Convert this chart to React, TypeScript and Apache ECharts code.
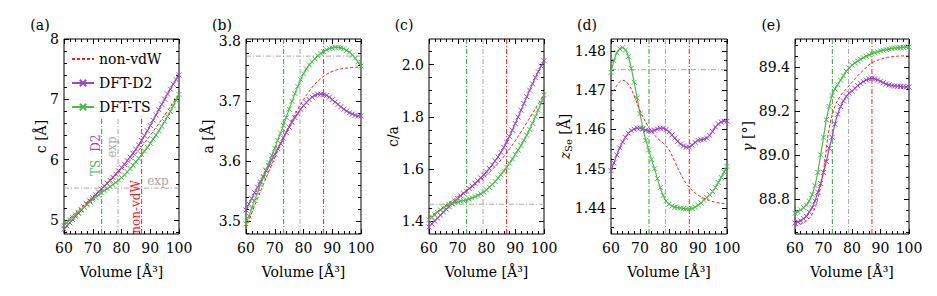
import React, { useEffect, useRef } from 'react';
import * as echarts from 'echarts';

// ---------- data ----------
const VOL = [60, 61, 62, 63, 64, 65, 66, 67, 68, 69, 70, 71, 72, 73, 74, 75, 76, 77, 78, 79, 80, 81, 82, 83, 84, 85, 86, 87, 88, 89, 90, 91, 92, 93, 94, 95, 96, 97, 98, 99, 100];
const VOL2 = [60, 62, 64, 66, 68, 70, 72, 74, 76, 78, 80, 82, 84, 86, 88, 90, 92, 94, 96, 98, 100];

// (a) c [Å]
const C_D2 = [4.848, 4.902, 4.956, 5.009, 5.061, 5.114, 5.167, 5.219, 5.270, 5.319, 5.368, 5.418, 5.467, 5.515, 5.564, 5.612, 5.661, 5.711, 5.763, 5.815, 5.869, 5.925, 5.983, 6.043, 6.106, 6.174, 6.245, 6.320, 6.397, 6.480, 6.567, 6.654, 6.742, 6.830, 6.918, 7.004, 7.089, 7.171, 7.252, 7.329, 7.404];
const C_TS = [4.912, 4.957, 5.001, 5.044, 5.087, 5.130, 5.173, 5.215, 5.256, 5.298, 5.339, 5.378, 5.416, 5.452, 5.488, 5.521, 5.554, 5.588, 5.624, 5.662, 5.704, 5.750, 5.800, 5.854, 5.910, 5.966, 6.022, 6.082, 6.143, 6.206, 6.272, 6.339, 6.408, 6.480, 6.555, 6.633, 6.715, 6.801, 6.892, 6.985, 7.081];
const C_NV = [4.932, 5.024, 5.116, 5.208, 5.297, 5.386, 5.473, 5.561, 5.649, 5.741, 5.837, 5.938, 6.044, 6.158, 6.278, 6.403, 6.535, 6.670, 6.808, 6.946, 7.088];

// (b) a [Å]
const A_D2 = [3.518, 3.528, 3.537, 3.547, 3.556, 3.565, 3.574, 3.583, 3.592, 3.602, 3.611, 3.620, 3.629, 3.638, 3.647, 3.656, 3.664, 3.672, 3.679, 3.686, 3.692, 3.697, 3.702, 3.706, 3.709, 3.711, 3.711, 3.710, 3.709, 3.706, 3.702, 3.698, 3.694, 3.690, 3.686, 3.683, 3.680, 3.678, 3.676, 3.675, 3.675];
const A_TS = [3.495, 3.508, 3.521, 3.534, 3.547, 3.560, 3.572, 3.585, 3.597, 3.609, 3.621, 3.634, 3.646, 3.659, 3.672, 3.686, 3.699, 3.712, 3.724, 3.735, 3.745, 3.753, 3.760, 3.765, 3.770, 3.775, 3.779, 3.782, 3.785, 3.787, 3.788, 3.789, 3.789, 3.788, 3.787, 3.784, 3.781, 3.776, 3.771, 3.765, 3.758];
const A_NV = [3.488, 3.513, 3.537, 3.560, 3.583, 3.605, 3.627, 3.648, 3.668, 3.686, 3.702, 3.716, 3.728, 3.737, 3.744, 3.749, 3.752, 3.754, 3.755, 3.756, 3.756];

// (c) c/a
const CA_D2 = [1.378, 1.390, 1.401, 1.412, 1.423, 1.435, 1.446, 1.456, 1.467, 1.477, 1.487, 1.497, 1.507, 1.516, 1.525, 1.535, 1.545, 1.555, 1.566, 1.577, 1.589, 1.602, 1.616, 1.631, 1.646, 1.664, 1.683, 1.703, 1.725, 1.749, 1.774, 1.799, 1.825, 1.851, 1.877, 1.902, 1.926, 1.950, 1.973, 1.994, 2.015];
const CA_TS = [1.405, 1.415, 1.425, 1.434, 1.443, 1.451, 1.458, 1.464, 1.468, 1.471, 1.474, 1.477, 1.479, 1.482, 1.485, 1.489, 1.494, 1.499, 1.505, 1.512, 1.520, 1.530, 1.540, 1.552, 1.565, 1.578, 1.592, 1.607, 1.622, 1.638, 1.655, 1.672, 1.690, 1.710, 1.730, 1.752, 1.775, 1.800, 1.826, 1.854, 1.884];
const CA_NV = [1.414, 1.430, 1.446, 1.463, 1.478, 1.494, 1.509, 1.524, 1.540, 1.558, 1.577, 1.598, 1.621, 1.648, 1.677, 1.708, 1.742, 1.777, 1.813, 1.849, 1.887];

// (d) z_Se [Å]
const Z_D2 = [1.4495, 1.4515, 1.4535, 1.4553, 1.4568, 1.4580, 1.4590, 1.4597, 1.4601, 1.4603, 1.4603, 1.4601, 1.4598, 1.4596, 1.4596, 1.4598, 1.4601, 1.4603, 1.4603, 1.4600, 1.4594, 1.4586, 1.4578, 1.4570, 1.4563, 1.4558, 1.4555, 1.4555, 1.4560, 1.4567, 1.4572, 1.4574, 1.4575, 1.4578, 1.4585, 1.4595, 1.4606, 1.4614, 1.4619, 1.4621, 1.4621];
const Z_TS = [1.4745, 1.4775, 1.4795, 1.4805, 1.4808, 1.4802, 1.4785, 1.4755, 1.4720, 1.4680, 1.4640, 1.4603, 1.4572, 1.4548, 1.4523, 1.4500, 1.4475, 1.4452, 1.4432, 1.4418, 1.4410, 1.4405, 1.4402, 1.4401, 1.4400, 1.4399, 1.4398, 1.4398, 1.4399, 1.4402, 1.4407, 1.4413, 1.4420, 1.4427, 1.4434, 1.4442, 1.4452, 1.4465, 1.4478, 1.4492, 1.4506];
const Z_NV = [1.4685, 1.4712, 1.4725, 1.4715, 1.4685, 1.4648, 1.4618, 1.4595, 1.4578, 1.4565, 1.4548, 1.4518, 1.4487, 1.4462, 1.4445, 1.4433, 1.4425, 1.4419, 1.4415, 1.4412, 1.4411];

// (e) gamma [deg]
const G_D2 = [88.69, 88.695, 88.70, 88.71, 88.72, 88.74, 88.76, 88.79, 88.83, 88.87, 88.92, 88.97, 89.03, 89.08, 89.14, 89.185, 89.22, 89.245, 89.265, 89.28, 89.29, 89.303, 89.315, 89.325, 89.333, 89.341, 89.346, 89.348, 89.346, 89.341, 89.335, 89.328, 89.322, 89.318, 89.315, 89.313, 89.312, 89.311, 89.31, 89.309, 89.309];
const G_TS = [88.734, 88.742, 88.75, 88.76, 88.772, 88.79, 88.82, 88.86, 88.92, 89.0, 89.08, 89.16, 89.22, 89.27, 89.30, 89.32, 89.34, 89.36, 89.38, 89.395, 89.408, 89.418, 89.427, 89.435, 89.442, 89.449, 89.455, 89.46, 89.465, 89.469, 89.473, 89.476, 89.479, 89.482, 89.484, 89.486, 89.487, 89.488, 89.489, 89.49, 89.49];
const G_NV = [88.675, 88.685, 88.70, 88.73, 88.80, 88.93, 89.12, 89.22, 89.27, 89.30, 89.33, 89.36, 89.385, 89.41, 89.425, 89.435, 89.442, 89.446, 89.449, 89.45, 89.45];

// reference volumes and experimental values
const V_TS = 73.1;
const V_EXP = 78.8;
const V_NV = 87.0;
const EXP_C = 5.53;
const EXP_A = 3.7745;
const EXP_CA = 1.465;
const EXP_Z = 1.4752;

// ticks
const X_TICKS = [60, 70, 80, 90, 100];
const C_MAJOR = [5, 6, 7, 8];
const C_MINOR = [4.8, 5.2, 5.4, 5.6, 5.8, 6.2, 6.4, 6.6, 6.8, 7.2, 7.4, 7.6, 7.8];
const A_MAJOR = [3.5, 3.6, 3.7, 3.8];
const A_MINOR = [3.48, 3.52, 3.54, 3.56, 3.58, 3.62, 3.64, 3.66, 3.68, 3.72, 3.74, 3.76, 3.78];
const CA_MAJOR = [1.4, 1.6, 1.8, 2.0];
const CA_MINOR = [1.45, 1.5, 1.55, 1.65, 1.7, 1.75, 1.85, 1.9, 1.95, 2.05];
const Z_MAJOR = [1.44, 1.45, 1.46, 1.47, 1.48];
const Z_MINOR = [1.435, 1.4375, 1.4425, 1.445, 1.4475, 1.4525, 1.455, 1.4575, 1.4625, 1.465, 1.4675, 1.4725, 1.475, 1.4775, 1.4825];
const G_MAJOR = [88.8, 89.0, 89.2, 89.4];
const G_MINOR = [88.65, 88.7, 88.75, 88.85, 88.9, 88.95, 89.05, 89.1, 89.15, 89.25, 89.3, 89.35, 89.45, 89.5];

// ---------- styles ----------
const FONT = 'DejaVu Serif';
const RED = '#ff1a1a';
const PURPLE = '#9a48c6';
const GREEN = '#4cbb4c';
const VGREEN = '#2f9f2f';
const GRAY = '#a8a8a8';
const XSYM = 'path://M0,0L10,10M10,0L0,10';
const DASHDOT = [5, 2, 1, 2];

const LEFTS = [64, 246, 429, 611, 795];
const WIDTHS = [115, 115, 115, 116, 114];
const TOP = 39;
const HEIGHT = 195;

const zip = (xs: number[], ys: number[]) => xs.map((x, i) => [x, ys[i]]);

const PANELS = [
  { d2: C_D2, ts: C_TS, nv: C_NV, min: 4.77, max: 8.0, major: C_MAJOR, minor: C_MINOR, dec: 0, exp: EXP_C as number | null, vTop: 6.71 },
  { d2: A_D2, ts: A_TS, nv: A_NV, min: 3.478, max: 3.803, major: A_MAJOR, minor: A_MINOR, dec: 1, exp: EXP_A as number | null, vTop: 3.803 },
  { d2: CA_D2, ts: CA_TS, nv: CA_NV, min: 1.351, max: 2.098, major: CA_MAJOR, minor: CA_MINOR, dec: 1, exp: EXP_CA as number | null, vTop: 2.098 },
  { d2: Z_D2, ts: Z_TS, nv: Z_NV, min: 1.4334, max: 1.483, major: Z_MAJOR, minor: Z_MINOR, dec: 2, exp: EXP_Z as number | null, vTop: 1.483 },
  { d2: G_D2, ts: G_TS, nv: G_NV, min: 88.64, max: 89.527, major: G_MAJOR, minor: G_MINOR, dec: 1, exp: null as number | null, vTop: 89.527 },
];

const LABELS = ['(a)', '(b)', '(c)', '(d)', '(e)'];
const YNAMES = ['c [Å]', 'a [Å]', 'c/a', '{i|z}{s|Se} [Å]', '{i|γ} [°]'];
const YNAME_X = [41, 208, 393, 565, 748];
const LABEL_X = [40, 222, 404, 587, 771];

function buildOption() {
  const grid: any[] = [];
  const xAxis: any[] = [];
  const yAxis: any[] = [];
  const series: any[] = [];
  const graphic: any[] = [];

  PANELS.forEach((p, i) => {
    grid.push({ left: LEFTS[i], top: TOP, width: WIDTHS[i], height: HEIGHT, show: true, borderColor: '#000', borderWidth: 1, containLabel: false });
    const xBase = {
      type: 'value', gridIndex: i, min: 60, max: 100, interval: 10,
      axisLine: { show: false }, splitLine: { show: false },
      axisTick: { show: true, inside: true, length: 5, lineStyle: { color: '#000', width: 1 } },
      minorTick: { show: true, splitNumber: 5, length: 3, lineStyle: { color: '#000', width: 1 } },
    };
    xAxis.push({ ...xBase, position: 'bottom', axisLabel: { show: true, fontFamily: FONT, fontSize: 14, color: '#000', margin: 7, customValues: X_TICKS } });
    xAxis.push({ ...xBase, position: 'top', axisLabel: { show: false } });
    const yBase = { type: 'value', gridIndex: i, min: p.min, max: p.max, axisLine: { show: false }, splitLine: { show: false } };
    const major = { show: true, inside: true, length: 5, customValues: p.major, lineStyle: { color: '#000', width: 1 } };
    const minor = { show: true, inside: true, length: 3, customValues: p.minor, lineStyle: { color: '#000', width: 1 } };
    yAxis.push({ ...yBase, position: 'left', axisTick: major, axisLabel: { show: true, customValues: p.major, formatter: (v: number) => v.toFixed(p.dec), fontFamily: FONT, fontSize: 14, color: '#000', margin: 5 } });
    yAxis.push({ ...yBase, position: 'left', axisTick: minor, axisLabel: { show: false } });
    yAxis.push({ ...yBase, position: 'right', axisTick: major, axisLabel: { show: false } });
    yAxis.push({ ...yBase, position: 'right', axisTick: minor, axisLabel: { show: false } });

    const xi = i * 2;
    const yi = i * 4;
    const refLine = (name: string, data: number[][], color: string) => ({
      name, type: 'line', xAxisIndex: xi, yAxisIndex: yi, data, symbol: 'none', silent: true, z: 1,
      lineStyle: { color, width: 1, type: DASHDOT },
    });
    series.push(refLine('vTS', [[V_TS, p.min], [V_TS, p.vTop]], VGREEN));
    series.push(refLine('vEXP', [[V_EXP, p.min], [V_EXP, p.vTop]], GRAY));
    series.push(refLine('vNV', [[V_NV, p.min], [V_NV, p.vTop]], RED));
    if (p.exp !== null) series.push(refLine('hEXP', [[60, p.exp], [100, p.exp]], GRAY));

    series.push({
      name: 'non-vdW', type: 'line', xAxisIndex: xi, yAxisIndex: yi, data: zip(VOL2, p.nv), smooth: 0.4,
      symbol: 'none', showSymbol: false, z: 4,
      lineStyle: { color: RED, width: 1, type: [3, 2] }, itemStyle: { color: RED },
    });
    series.push({
      name: 'DFT-D2', type: 'line', xAxisIndex: xi, yAxisIndex: yi, data: zip(VOL, p.d2), smooth: 0.3,
      symbol: XSYM, symbolSize: 5, showSymbol: true, z: 3,
      lineStyle: { color: PURPLE, width: 1.2 }, itemStyle: { color: 'rgba(0,0,0,0)', borderColor: PURPLE, borderWidth: 1 },
    });
    series.push({
      name: 'DFT-TS', type: 'line', xAxisIndex: xi, yAxisIndex: yi, data: zip(VOL, p.ts), smooth: 0.3,
      symbol: XSYM, symbolSize: 5, showSymbol: true, z: 3,
      lineStyle: { color: GREEN, width: 1.2 }, itemStyle: { color: 'rgba(0,0,0,0)', borderColor: GREEN, borderWidth: 1 },
    });

    graphic.push({ type: 'text', x: LABEL_X[i], y: 25, style: { text: LABELS[i], fontFamily: FONT, fontSize: 14, fill: '#000', align: 'center', verticalAlign: 'middle' } });
    graphic.push({ type: 'text', x: LEFTS[i] + WIDTHS[i] / 2, y: 272, style: { text: 'Volume [Å³]', fontFamily: FONT, fontSize: 14, fill: '#000', align: 'center', verticalAlign: 'middle' } });
    graphic.push({
      type: 'text', x: YNAME_X[i], y: TOP + HEIGHT / 2, rotation: Math.PI / 2,
      style: {
        text: YNAMES[i], fontFamily: FONT, fontSize: 14, fill: '#000', align: 'center', verticalAlign: 'middle',
        rich: { i: { fontFamily: FONT, fontSize: 14, fontStyle: 'italic', fill: '#000' }, s: { fontFamily: FONT, fontSize: 10, fill: '#000', padding: [6, 0, 0, 0] } },
      },
    });
  });

  // annotations in panel (a)
  const ann = (text: string, x: number, y: number, color: string, rot: boolean, size: number) => ({
    type: 'text', x, y, rotation: rot ? Math.PI / 2 : 0, z: 10,
    style: { text, fontFamily: FONT, fontSize: size, fill: color, align: 'center', verticalAlign: 'middle' },
  });
  graphic.push(ann('TS', 96, 168, GREEN, true, 12));
  graphic.push(ann('D2', 96, 143, PURPLE, true, 12));
  graphic.push(ann('exp', 112, 147, GRAY, true, 12));
  graphic.push(ann('non-vdW', 136, 207, RED, true, 12));
  graphic.push(ann('exp', 158, 181, GRAY, false, 12));

  return {
    animation: false,
    backgroundColor: '#fff',
    textStyle: { fontFamily: FONT },
    grid, xAxis, yAxis, series, graphic,
    legend: {
      data: [
        { name: 'non-vdW', itemStyle: { color: 'rgba(0,0,0,0)', borderColor: 'rgba(0,0,0,0)', borderWidth: 0 } },
        'DFT-D2', 'DFT-TS',
      ],
      orient: 'vertical', left: 71, top: 52,
      itemWidth: 22, itemHeight: 8, itemGap: 10, padding: [0, 2, 0, 0],
      textStyle: { fontFamily: FONT, fontSize: 14, color: '#000' },
    },
  };
}

export default function App() {
  const ref = useRef<HTMLDivElement>(null);
  useEffect(() => {
    if (!ref.current) return;
    const chart = echarts.init(ref.current, undefined, { renderer: 'svg' });
    chart.setOption(buildOption() as any);
    return () => chart.dispose();
  }, []);
  return <div ref={ref} style={{ position: 'absolute', left: 0, top: 0, width: 937, height: 296 }} />;
}
